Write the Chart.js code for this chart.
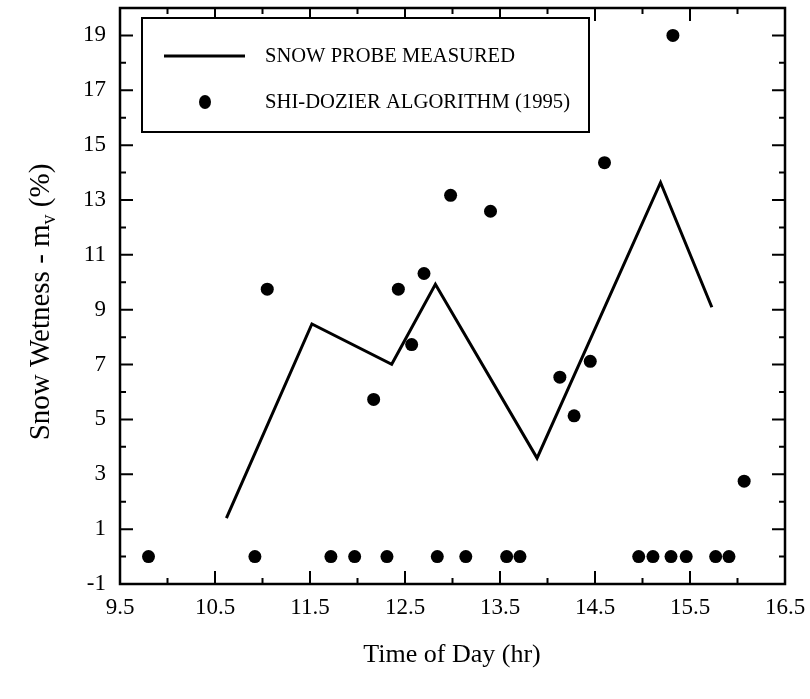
<!DOCTYPE html>
<html>
<head>
<meta charset="utf-8">
<script src="https://cdn.jsdelivr.net/npm/chart.js@4.4.0/dist/chart.umd.min.js"></script>
<style>
  html, body { margin: 0; padding: 0; background: #fff; }
</style>
</head>
<body>
<canvas id="chart" width="810" height="699"></canvas>
<script>
// snow probe measured (line)
const probeTime = [10.62, 11.52, 12.36, 12.82, 13.89, 15.19, 15.73];
const probeWetness = [1.4, 8.48, 7.01, 9.93, 3.59, 13.64, 9.09];

// Shi-Dozier algorithm (dots)
const shiTime = [9.80, 10.92, 11.05, 11.72, 11.97, 12.17, 12.31, 12.43, 12.57, 12.70, 12.84,
  12.98, 13.14, 13.40, 13.57, 13.71, 14.13, 14.28, 14.45, 14.60, 14.96, 15.11, 15.30, 15.32,
  15.46, 15.77, 15.91, 16.07];
const shiWetness = [0, 0, 9.75, 0, 0, 5.73, 0, 9.75, 7.73, 10.32, 0,
  13.17, 0, 12.59, 0, 0, 6.54, 5.13, 7.12, 14.36, 0, 0, 0, 19.0,
  0, 0, 0, 2.75];

const xTickValues = [9.5, 10.5, 11.5, 12.5, 13.5, 14.5, 15.5, 16.5];
const xMinorValues = [10, 11, 12, 13, 14, 15, 16];
const yTickValues = [-1, 1, 3, 5, 7, 9, 11, 13, 15, 17, 19];
const yMinorValues = [0, 2, 4, 6, 8, 10, 12, 14, 16, 18];

const legendLabels = ['SNOW PROBE MEASURED', 'SHI-DOZIER ALGORITHM (1995)'];
const xTitle = 'Time of Day (hr)';

const serif = '"Liberation Serif", "Times New Roman", serif';

const probePoints = probeTime.map((t, i) => ({ x: t, y: probeWetness[i] }));
const shiPoints = shiTime.map((t, i) => ({ x: t, y: shiWetness[i] }));

// squeeze a string into a given width (the print uses a narrow face)
function fitText(ctx, text, x, y, width) {
  const w = ctx.measureText(text).width;
  const k = Math.min(1, width / w);
  ctx.save();
  ctx.translate(x, y);
  ctx.scale(k, 1);
  ctx.fillText(text, 0, 0);
  ctx.restore();
}

// frame, inward ticks, legend box and axis titles
const decorations = {
  id: 'decorations',
  afterDraw(chart) {
    const ctx = chart.ctx;
    const area = chart.chartArea;
    const xs = chart.scales.x;
    const ys = chart.scales.y;
    ctx.save();
    ctx.strokeStyle = '#000';
    ctx.fillStyle = '#000';

    ctx.lineWidth = 2.5;
    ctx.strokeRect(area.left, area.top, area.right - area.left, area.bottom - area.top);

    ctx.lineWidth = 2;
    const majorLen = 13, minorLen = 6;
    ctx.beginPath();
    xTickValues.forEach(v => {
      const px = xs.getPixelForValue(v);
      ctx.moveTo(px, area.bottom); ctx.lineTo(px, area.bottom - majorLen);
      ctx.moveTo(px, area.top); ctx.lineTo(px, area.top + majorLen);
    });
    xMinorValues.forEach(v => {
      const px = xs.getPixelForValue(v);
      ctx.moveTo(px, area.bottom); ctx.lineTo(px, area.bottom - minorLen);
      ctx.moveTo(px, area.top); ctx.lineTo(px, area.top + minorLen);
    });
    yTickValues.forEach(v => {
      const py = ys.getPixelForValue(v);
      ctx.moveTo(area.left, py); ctx.lineTo(area.left + majorLen, py);
      ctx.moveTo(area.right, py); ctx.lineTo(area.right - majorLen, py);
    });
    yMinorValues.forEach(v => {
      const py = ys.getPixelForValue(v);
      ctx.moveTo(area.left, py); ctx.lineTo(area.left + minorLen, py);
      ctx.moveTo(area.right, py); ctx.lineTo(area.right - minorLen, py);
    });
    ctx.stroke();

    // legend
    ctx.lineWidth = 2;
    ctx.fillStyle = '#fff';
    ctx.fillRect(142, 18, 447, 114);
    ctx.fillStyle = '#000';
    ctx.strokeRect(142, 18, 447, 114);
    ctx.lineWidth = 3;
    ctx.beginPath();
    ctx.moveTo(164, 56); ctx.lineTo(245, 56);
    ctx.stroke();
    ctx.beginPath();
    ctx.ellipse(205, 102, 6, 7, 0, 0, Math.PI * 2);
    ctx.fill();
    ctx.font = '22px ' + serif;
    ctx.textBaseline = 'middle';
    ctx.textAlign = 'left';
    fitText(ctx, legendLabels[0], 265, 56, 250);
    fitText(ctx, legendLabels[1], 265, 102, 305);

    // x title
    ctx.font = '26px ' + serif;
    ctx.textAlign = 'center';
    ctx.fillText(xTitle, 452, 655);

    // y title with subscript
    ctx.translate(41, 302);
    ctx.rotate(-Math.PI / 2);
    const part1 = 'Snow Wetness - m';
    const part2 = ' (%)';
    ctx.font = '29px ' + serif;
    const w1 = ctx.measureText(part1).width;
    const w3 = ctx.measureText(part2).width;
    ctx.font = '20px ' + serif;
    const w2 = ctx.measureText('v').width;
    const total = w1 + w2 + w3;
    let cx = -total / 2;
    ctx.textAlign = 'left';
    ctx.font = '29px ' + serif;
    ctx.fillText(part1, cx, 0);
    cx += w1;
    ctx.font = '20px ' + serif;
    ctx.fillText('v', cx, 9);
    cx += w2;
    ctx.font = '29px ' + serif;
    ctx.fillText(part2, cx, 0);
    ctx.restore();
  }
};

new Chart(document.getElementById('chart'), {
  type: 'scatter',
  data: {
    datasets: [
      {
        label: legendLabels[0],
        data: probePoints,
        showLine: true,
        borderColor: '#000',
        borderWidth: 3,
        pointRadius: 0,
        fill: false,
        tension: 0
      },
      {
        label: legendLabels[1],
        data: shiPoints,
        showLine: false,
        backgroundColor: '#000',
        borderColor: '#000',
        borderWidth: 0,
        pointRadius: 6.5
      }
    ]
  },
  options: {
    responsive: false,
    animation: false,
    devicePixelRatio: 1,
    layout: { padding: { left: 0, right: 25, top: 8, bottom: 0 } },
    plugins: {
      legend: { display: false },
      tooltip: { enabled: false }
    },
    scales: {
      x: {
        type: 'linear',
        min: 9.5,
        max: 16.5,
        afterBuildTicks: s => { s.ticks = xTickValues.map(v => ({ value: v })); },
        afterFit: s => { s.height = 115; s.paddingLeft = 0; s.paddingRight = 0; },
        grid: { display: false, drawTicks: false },
        border: { display: false },
        ticks: {
          color: '#000',
          font: { family: serif, size: 23 },
          padding: 10,
          maxRotation: 0,
          callback: v => v.toFixed(1)
        }
      },
      y: {
        type: 'linear',
        min: -1,
        max: 20,
        afterBuildTicks: s => { s.ticks = yTickValues.map(v => ({ value: v })); },
        afterFit: s => { s.width = 120; s.paddingTop = 0; s.paddingBottom = 0; },
        grid: { display: false, drawTicks: false },
        border: { display: false },
        ticks: {
          color: '#000',
          font: { family: serif, size: 23 },
          padding: 14,
          callback: v => String(v)
        }
      }
    }
  },
  plugins: [decorations]
});
</script>
</body>
</html>
